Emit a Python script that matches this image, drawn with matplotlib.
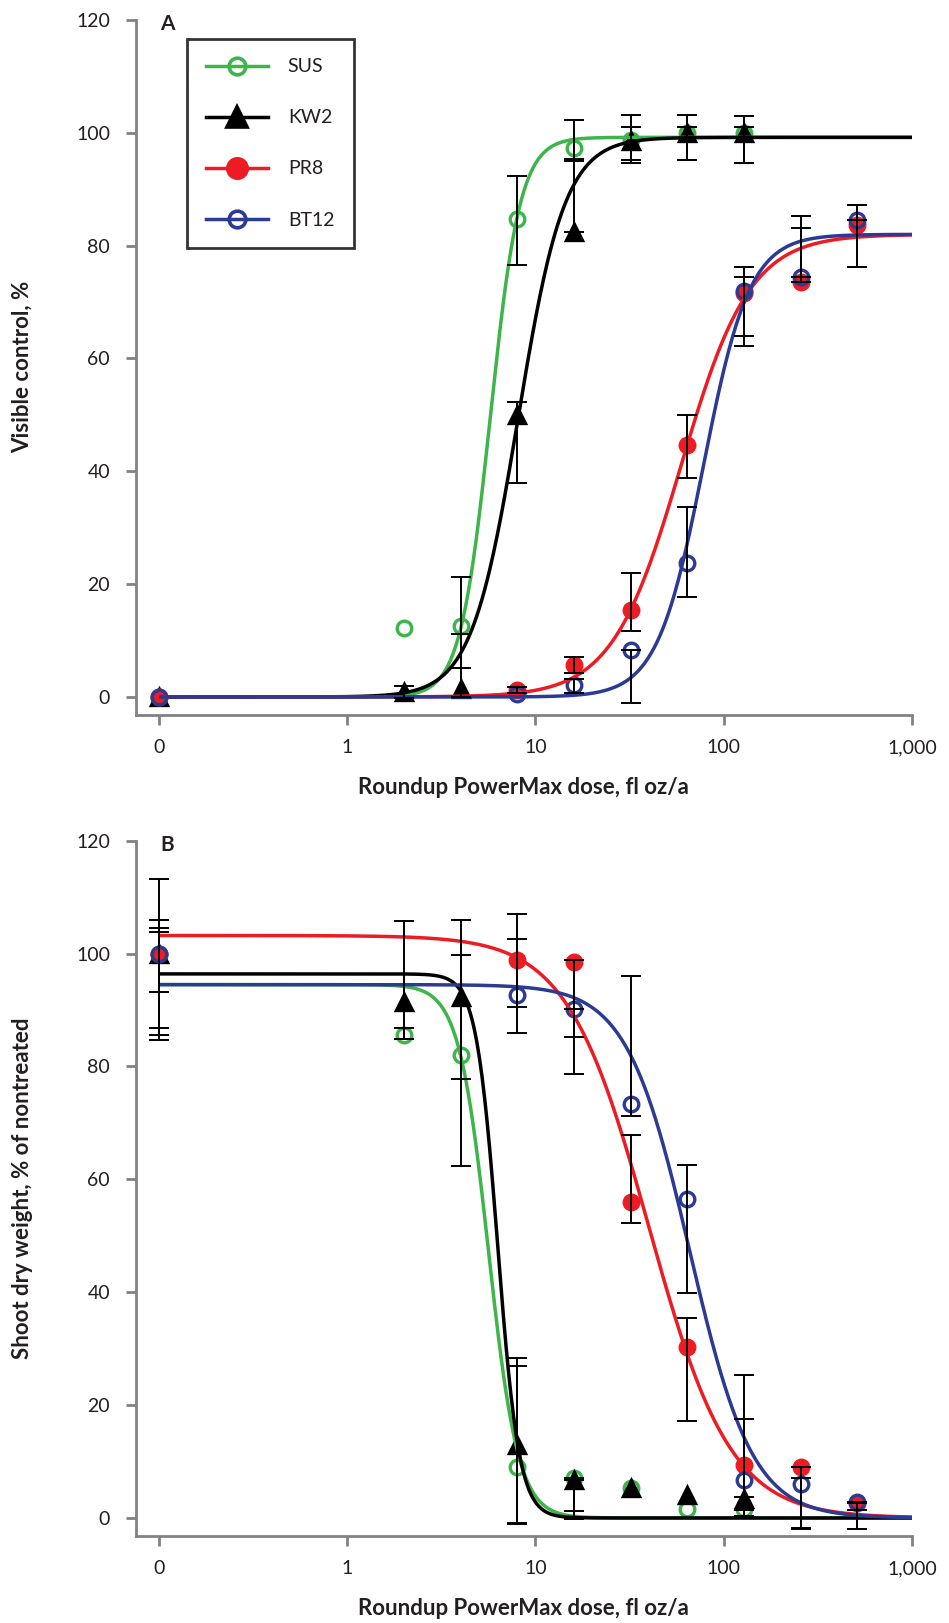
import numpy as np
import matplotlib
matplotlib.use("Agg")
import matplotlib.pyplot as plt
from matplotlib.lines import Line2D

plt.rcParams['font.family'] = ['Lato', 'DejaVu Sans']

# ---------------- data ----------------
dose_sk = [0, 2, 4, 8, 16, 32, 64, 128]          # SUS, KW2
dose_pb = [0, 8, 16, 32, 64, 128, 256, 512]      # PR8, BT12
xticks = [0.1, 1, 10, 100, 1000]
xticklabels = ['0', '1', '10', '100', '1,000']
yticks = [0, 20, 40, 60, 80, 100, 120]
series_names = ['SUS', 'KW2', 'PR8', 'BT12']

# Panel A: visible control, %
sus_a = [0, 12.2, 12.5, 84.8, 97.3, 98.8, 100, 100]
sus_a_lo = [0, 0, 7.4, 8.2, 2.3, 3.6, 4.8, 5.4]
sus_a_hi = [0, 0, 8.7, 7.6, 5.0, 4.4, 3.2, 3.0]
kw2_a = [0, 0.9, 1.5, 50.0, 82.5, 98.5, 100, 100]
kw2_a_lo = [0, 1.0, 1.5, 12.1, 0, 3.9, 4.8, 5.4]
kw2_a_hi = [0, 1.0, 9.6, 2.2, 12.9, 2.6, 1.1, 1.1]
pr8_a = [0, 1.2, 5.7, 15.4, 44.7, 71.6, 73.5, 83.7]
pr8_a_lo = [0, 0.5, 1.4, 3.7, 5.8, 7.7, 0, 7.4]
pr8_a_hi = [0, 0.5, 1.4, 6.5, 5.2, 4.7, 11.8, 3.5]
bt12_a = [0, 0.5, 2.1, 8.3, 23.7, 71.9, 74.5, 84.6]
bt12_a_lo = [0, 0, 1.4, 9.3, 5.9, 9.6, 0, 0]
bt12_a_hi = [0, 0, 1.0, 0, 10.0, 2.6, 8.6, 2.6]

# Panel B: shoot dry weight, % of nontreated
sus_b = [100, 85.5, 82.0, 9.0, 7.0, 5.3, 1.6, 1.6]
sus_b_lo = [13.2, 0.7, 19.6, 9.9, 5.7, 0, 0, 0]
sus_b_hi = [13.3, 1.3, 17.8, 18.0, 0, 0, 0, 0]
kw2_b = [100, 91.4, 92.3, 12.9, 6.7, 5.3, 4.0, 3.3]
kw2_b_lo = [6.8, 6.6, 14.5, 14.0, 6.9, 0, 0, 3.0]
kw2_b_hi = [6.0, 14.3, 13.7, 15.5, 0, 0, 0, 0.5]
pr8_b = [100, 98.8, 98.5, 56.0, 30.3, 9.4, 9.0, 2.6]
pr8_b_lo = [14.5, 8.2, 13.2, 3.8, 13.1, 8.0, 11.0, 4.5]
pr8_b_hi = [4.5, 8.2, 0.4, 11.8, 5.2, 8.1, 0, 0]
bt12_b = [100, 92.7, 90.2, 73.3, 56.6, 6.8, 6.0, 2.9]
bt12_b_lo = [15.3, 6.7, 11.5, 2.0, 16.8, 6.7, 7.8, 1.5]
bt12_b_hi = [3.9, 9.9, 0, 22.8, 6.0, 18.5, 1.1, 0]

# fitted log-logistic curve parameters (upper limit, ED50, slope)
fit_a_upper = [99.2, 99.2, 82.0, 82.0]
fit_a_ed50 = [5.75, 8.1, 59.3, 78.0]
fit_a_slope = [-5.45, -3.5, -2.37, -3.53]
fit_b_upper = [94.5, 96.4, 103.2, 94.5]
fit_b_ed50 = [5.63, 6.3, 40.0, 66.0]
fit_b_slope = [5.49, 7.6, 2.0, 2.6]

colors = ['#3db54a', '#000000', '#ed1c24', '#2b3a93']
markers = ['o', '^', 'o', 'o']
filled = [False, True, True, False]

# ---------------- figure ----------------
W, H = 949, 1623
fig = plt.figure(figsize=(W / 100, H / 100), dpi=100)

ax_left, ax_right = 135.7, 912.0
xmin = 0.1 * 10 ** (-(159.0 - 135.7) / 188.3)
ymin = -3.14


def make_ax(top_px, bottom_px):
    return fig.add_axes([ax_left / W, 1 - bottom_px / H,
                         (ax_right - ax_left) / W, (bottom_px - top_px) / H])


def ll(x, d, e, b):
    return d / (1 + np.exp(b * (np.log(x) - np.log(e))))


def draw_panel(ax, vals, los, his, doses_list, uppers, ed50s, slopes, ylabel):
    xs_curve = np.logspace(-1, 3, 600)
    # markers
    for i in range(4):
        xd = [d if d > 0 else 0.1 for d in doses_list[i]]
        mfc = colors[i] if filled[i] else 'none'
        ms = 11.5 if markers[i] == '^' else 10.5
        ax.plot(xd, vals[i], linestyle='none', marker=markers[i], ms=ms,
                mfc=mfc, mec=colors[i], mew=2.4, zorder=3 + i * 0.1)
    # curves
    for i in range(4):
        ax.plot(xs_curve, ll(xs_curve, uppers[i], ed50s[i], slopes[i]),
                color=colors[i], lw=2.5, zorder=4 + i * 0.1, solid_capstyle='butt')
    # error bars
    for i in range(4):
        xd = np.array([d if d > 0 else 0.1 for d in doses_list[i]], dtype=float)
        v = np.array(vals[i], dtype=float)
        lo = np.array(los[i], dtype=float)
        hi = np.array(his[i], dtype=float)
        m = (lo > 0) | (hi > 0)
        ax.errorbar(xd[m], v[m], yerr=[lo[m], hi[m]], fmt='none', ecolor='black',
                    elinewidth=1.4, capsize=7, capthick=1.4, zorder=6)

    ax.set_xscale('log')
    ax.set_xlim(xmin, 1000)
    ax.set_ylim(ymin, 120)
    ax.set_xticks(xticks)
    ax.set_xticklabels(xticklabels)
    ax.xaxis.set_minor_locator(matplotlib.ticker.NullLocator())
    ax.set_yticks(yticks)
    ax.set_yticklabels([str(t) for t in yticks])
    for s in ['top', 'right']:
        ax.spines[s].set_visible(False)
    for s in ['left', 'bottom']:
        ax.spines[s].set_color('#808285')
        ax.spines[s].set_linewidth(2.0)
    ax.tick_params(axis='both', direction='out', length=7.5, width=2.0,
                   color='#808285', labelsize=14, labelcolor='#231f20')
    ax.tick_params(axis='y', pad=11)
    ax.tick_params(axis='x', pad=10)
    ax.set_xlabel('Roundup PowerMax dose, fl oz/a', fontsize=16, fontweight='bold',
                  color='#231f20', labelpad=15)
    ax.set_ylabel(ylabel, fontsize=16, fontweight='bold', color='#231f20')
    ax.yaxis.set_label_coords(-(135.7 - 33) / (ax_right - ax_left), 0.5)
    ax.patch.set_alpha(0)


ax_a = make_ax(20.0, 714.7)
draw_panel(ax_a,
           [sus_a, kw2_a, pr8_a, bt12_a],
           [sus_a_lo, kw2_a_lo, pr8_a_lo, bt12_a_lo],
           [sus_a_hi, kw2_a_hi, pr8_a_hi, bt12_a_hi],
           [dose_sk, dose_sk, dose_pb, dose_pb],
           fit_a_upper, fit_a_ed50, fit_a_slope,
           'Visible control, %')
ax_b = make_ax(840.7, 1535.7)
draw_panel(ax_b,
           [sus_b, kw2_b, pr8_b, bt12_b],
           [sus_b_lo, kw2_b_lo, pr8_b_lo, bt12_b_lo],
           [sus_b_hi, kw2_b_hi, pr8_b_hi, bt12_b_hi],
           [dose_sk, dose_sk, dose_pb, dose_pb],
           fit_b_upper, fit_b_ed50, fit_b_slope,
           'Shoot dry weight, % of nontreated')

fig.text(160 / W, 1 - 24 / H, 'A', fontsize=15, fontweight='bold', va='center', color='#231f20')
fig.text(160 / W, 1 - 845 / H, 'B', fontsize=15, fontweight='bold', va='center', color='#231f20')

# legend
handles = []
for i in range(4):
    mfc = colors[i] if filled[i] else 'none'
    handles.append(Line2D([0], [0], color=colors[i], lw=2.5, marker=markers[i],
                          ms=14 if filled[i] else 12, mfc=mfc, mec=colors[i], mew=2.6))
leg = ax_a.legend(handles, series_names, loc='upper left',
                  bbox_to_anchor=(186.7 / W, 1 - 39 / H), bbox_transform=fig.transFigure,
                  borderaxespad=0, frameon=True, fancybox=False, fontsize=14,
                  handlelength=3.2, handletextpad=1.0, labelspacing=1.75,
                  borderpad=1.0, markerscale=1.0)
leg.get_frame().set_edgecolor('black')
leg.get_frame().set_linewidth(2.0)
for t in leg.get_texts():
    t.set_color('#231f20')

fig.savefig('out.png', dpi=100)
